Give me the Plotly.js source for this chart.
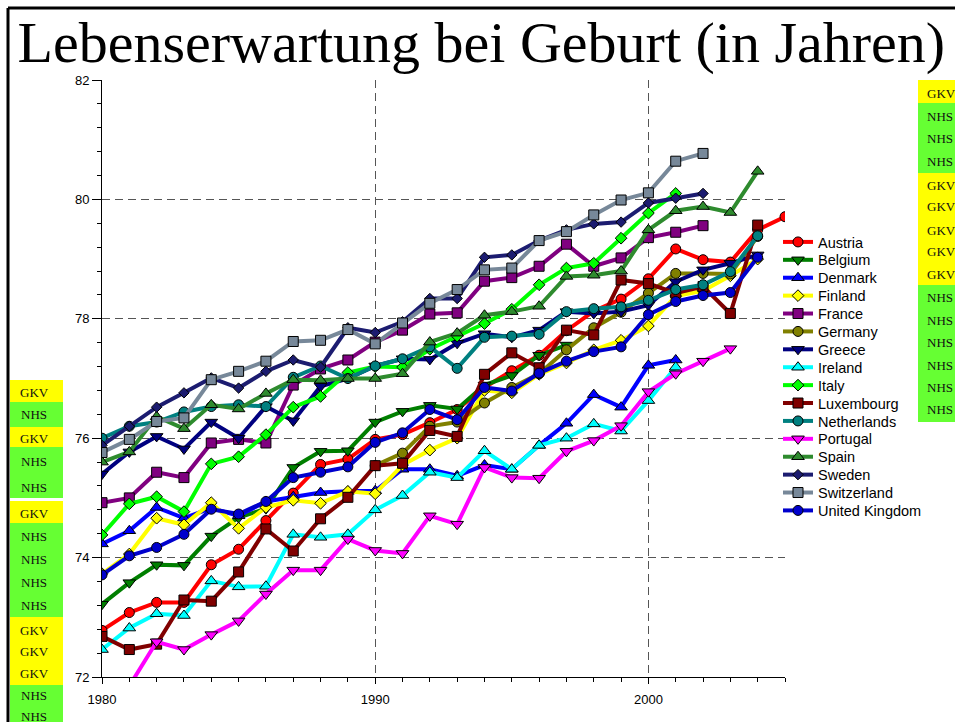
<!DOCTYPE html>
<html>
<head>
<meta charset="utf-8">
<script src="https://cdn.plot.ly/plotly-3.0.1.min.js"></script>
<style>html,body{margin:0;padding:0;background:#fff;}#chart{width:955px;height:722px;}</style>
</head>
<body>
<div id="chart"></div>
<script>
const years = [1980,1981,1982,1983,1984,1985,1986,1987,1988,1989,1990,1991,1992,1993,1994,1995,1996,1997,1998,1999,2000,2001,2002,2003,2004,2005];

const austria     = [72.78,73.08,73.25,73.25,73.88,74.14,74.62,75.08,75.56,75.65,75.98,76.06,76.26,76.48,76.85,77.13,77.39,77.80,78.13,78.33,78.67,79.17,78.99,78.95,79.49,79.71];
const belgium     = [73.22,73.58,73.88,73.87,74.36,74.67,74.82,75.51,75.78,75.79,76.27,76.45,76.55,76.49,76.89,77.05,77.39,77.56,null,null,null,null,null,null,null,null];
const denmark     = [74.23,74.45,74.84,74.66,74.83,74.70,74.94,75.02,75.09,75.11,75.12,75.48,75.48,75.37,75.55,75.48,75.88,76.25,76.73,76.52,77.22,77.31,null,null,null,null];
const finland     = [73.73,74.06,74.66,74.55,74.92,74.49,74.84,74.96,74.91,75.11,75.07,75.55,75.80,76.00,76.80,76.76,77.07,77.26,77.48,77.64,77.88,78.38,78.47,78.72,79.00,null];
const france      = [74.92,75.00,75.43,75.34,75.92,75.98,75.92,76.89,77.16,77.31,77.61,77.81,78.08,78.10,78.63,78.69,78.88,79.25,78.88,79.02,79.36,79.45,79.56,null,null,null];
const germany     = [null,null,null,null,null,null,null,null,null,null,75.54,75.75,76.20,76.27,76.59,76.85,77.08,77.48,77.85,78.11,78.43,78.76,78.76,78.75,79.38,null];
const greece      = [75.40,75.77,76.03,75.82,76.27,76.00,76.53,76.29,76.87,77.00,77.21,77.33,77.32,77.59,77.75,77.69,77.81,78.12,78.09,78.12,78.23,78.62,78.82,78.93,79.07,null];
const ireland     = [72.46,72.82,73.06,73.03,73.61,73.51,73.52,74.39,74.34,74.39,74.80,75.04,75.43,75.34,75.79,75.48,75.88,76.00,76.24,76.12,76.63,77.19,null,null,null,null];
const italy       = [74.38,74.90,75.02,74.77,75.57,75.69,76.06,76.52,76.70,77.10,77.20,77.19,77.49,77.71,77.92,78.16,78.57,78.85,78.93,79.35,79.77,80.10,null,null,null,null];
const luxembourg  = [72.68,72.46,72.55,73.29,73.27,73.76,74.48,74.11,74.65,75.01,75.54,75.58,76.13,76.03,77.07,77.43,77.18,77.81,77.73,78.65,78.59,78.43,78.54,78.09,79.57,null];
const netherlands = [76.00,76.20,76.27,76.44,76.53,76.56,76.53,77.02,77.21,77.00,77.21,77.33,77.53,77.17,77.69,77.71,77.74,78.12,78.17,78.20,78.31,78.49,78.57,78.79,79.39,null];
const portugal    = [71.30,71.85,72.59,72.46,72.71,72.94,73.39,73.79,73.79,74.31,74.12,74.07,74.70,74.56,75.51,75.34,75.33,75.78,75.96,76.21,76.78,77.08,77.29,77.50,null,null];
const spain       = [75.60,75.77,76.36,76.16,76.56,76.49,76.75,76.98,76.97,77.00,77.00,77.08,77.61,77.76,78.06,78.12,78.21,78.71,78.73,78.80,79.49,79.81,79.88,79.78,80.47,null];
const sweden      = [75.88,76.20,76.52,76.76,77.01,76.84,77.12,77.31,77.19,77.85,77.77,77.95,78.34,78.34,79.03,79.07,79.31,79.49,79.59,79.62,79.94,80.02,80.10,null,null,null];
const switzerland = [75.76,75.98,76.28,76.34,76.98,77.12,77.29,77.62,77.64,77.82,77.58,77.93,78.26,78.49,78.82,78.85,79.31,79.46,79.74,79.99,80.11,80.64,80.77,null,null,null];
const uk          = [73.71,74.03,74.17,74.39,74.81,74.73,74.94,75.34,75.43,75.52,75.93,76.09,76.48,76.31,76.85,76.79,77.09,77.29,77.45,77.53,78.07,78.29,78.39,78.44,79.03,null];

const countries = ['Austria','Belgium','Denmark','Finland','France','Germany','Greece','Ireland','Italy','Luxembourg','Netherlands','Portugal','Spain','Sweden','Switzerland','United Kingdom'];
const seriesData = [austria,belgium,denmark,finland,france,germany,greece,ireland,italy,luxembourg,netherlands,portugal,spain,sweden,switzerland,uk];
const colors = ['#FF0000','#007F00','#0000FF','#FFFF00','#800080','#808000','#000080','#00FFFF','#00FF00','#800000','#008080','#FF00FF','#2E8B2E','#1C1C70','#778899','#0000CD'];
const symbols = ['circle','triangle-down','triangle-up','diamond','square','circle','triangle-down','triangle-up','diamond','square','circle','triangle-down','triangle-up','diamond','square','circle'];
const msizes = [10,11,11,9,10,10,11,11,9,10,10,11,11,8,10,10];

// side labels (health system type)
const rightLabels = ['GKV','NHS','NHS','NHS','GKV','GKV','GKV','GKV','GKV','NHS','NHS','NHS','NHS','NHS','NHS'];
const leftLabels  = ['GKV','NHS','GKV','NHS','NHS','GKV','NHS','NHS','NHS','NHS','GKV','GKV','GKV','NHS','NHS'];

// geometry helpers (pixel -> paper)
const L = 102, R = 785, T = 80, B = 677;
const W = R - L, H = B - T;
const px = x => (x - L) / W;
const py = y => (B - y) / H;

const traces = countries.map((c, i) => ({
  type: 'scatter', mode: 'lines+markers', name: c,
  x: years, y: seriesData[i],
  line: {color: colors[i], width: 4},
  marker: {symbol: symbols[i], size: msizes[i], color: colors[i], line: {color: '#000', width: 1}},
  connectgaps: false
}));

const YEL = '#FFFF00', GRN = '#66FF33';
const shapes = [];
const annotations = [];

// right column blocks
const rightBlocks = [[80,103,YEL],[103,173,GRN],[173,285,YEL],[285,422,GRN]];
rightBlocks.forEach(b => shapes.push({type:'rect', xref:'paper', yref:'paper', x0:px(918), x1:px(960), y0:py(b[1]), y1:py(b[0]), fillcolor:b[2], line:{width:0}, layer:'below'}));
const rightY = [93,116,139,161,185,207,230,252,274,297,320,342,365,387,410];
rightLabels.forEach((t, i) => annotations.push({xref:'paper', yref:'paper', x:px(925), xanchor:'left', y:py(rightY[i]), yanchor:'middle', text:t, showarrow:false, font:{family:'Liberation Serif, Times New Roman, serif', size:13, color:'#111'}}));

// left column blocks
const leftBlocks = [[380,402,YEL],[402,427,GRN],[427,447,YEL],[447,498,GRN],[501,523,YEL],[523,617,GRN],[617,685,YEL],[685,730,GRN]];
leftBlocks.forEach(b => shapes.push({type:'rect', xref:'paper', yref:'paper', x0:px(10), x1:px(63), y0:py(b[1]), y1:py(b[0]), fillcolor:b[2], line:{width:0}, layer:'below'}));
const leftY = [392,415,438,461,487,513,536,559,582,605,630,651,673,695,716];
leftLabels.forEach((t, i) => annotations.push({xref:'paper', yref:'paper', x:px(34), xanchor:'center', y:py(leftY[i]), yanchor:'middle', text:t, showarrow:false, font:{family:'Liberation Serif, Times New Roman, serif', size:13, color:'#111'}}));

// frame lines
shapes.push({type:'line', xref:'paper', yref:'paper', x0:px(8), x1:px(960), y0:py(8), y1:py(8), line:{color:'#000', width:3}});
shapes.push({type:'line', xref:'paper', yref:'paper', x0:px(8), x1:px(8), y0:py(8), y1:py(730), line:{color:'#000', width:3}});

const axisFont = {family:'Liberation Sans, Arial, sans-serif', size:13, color:'#000'};
const layout = {
  width: 955, height: 722,
  margin: {l: L, r: 955 - R, t: T, b: 722 - B, pad: 0},
  paper_bgcolor: '#fff', plot_bgcolor: '#fff',
  title: {text: 'Lebenserwartung bei Geburt (in Jahren)', font: {family: 'Liberation Serif, Times New Roman, serif', size: 58, color: '#000'}, x: 0.504, xanchor: 'center', xref: 'container', y: 1 - 42/722, yanchor: 'middle', yref: 'container'},
  showlegend: true,
  legend: {x: px(778), xanchor: 'left', y: py(226), yanchor: 'top', font: {family: 'Liberation Sans, Arial, sans-serif', size: 14.5, color: '#000'}, bgcolor: 'rgba(0,0,0,0)', borderwidth: 0, tracegroupgap: 0, itemwidth: 30},
  xaxis: {range: [1980, 2005], tickmode: 'array', tickvals: [1980, 1990, 2000], ticktext: ['1980','1990','2000'], showgrid: true, gridcolor: '#555', gridwidth: 1.2, griddash: '8px,5px', showline: true, linecolor: '#000', linewidth: 1, ticks: 'outside', ticklen: 6, tickcolor: '#000', tickfont: axisFont, ticklabelstandoff: 4, zeroline: false, fixedrange: true,
    minor: {tickmode: 'linear', tick0: 1980, dtick: 1, ticks: 'outside', ticklen: 4, tickcolor: '#000', showgrid: false}},
  yaxis: {range: [72, 82], tick0: 72, dtick: 2, showgrid: true, gridcolor: '#555', gridwidth: 1.2, griddash: '8px,5px', showline: true, linecolor: '#000', linewidth: 1, ticks: 'outside', ticklen: 9, tickcolor: '#000', tickfont: axisFont, zeroline: false, fixedrange: true,
    minor: {tick0: 72, dtick: 0.4, ticks: 'outside', ticklen: 4, tickcolor: '#000', showgrid: false}},
  shapes: shapes,
  annotations: annotations
};

Plotly.newPlot('chart', traces, layout, {displayModeBar: false, staticPlot: true}).then(gd => {
  // tighten legend row spacing to match the reference (~17.9 px per entry)
  const items = gd.querySelectorAll('.legend .traces');
  if (!items.length) return;
  const m = /translate\(\s*([-\d.]+)[ ,]+([-\d.]+)\s*\)/.exec(items[0].getAttribute('transform') || '');
  if (!m) return;
  const x0 = parseFloat(m[1]), y0 = parseFloat(m[2]);
  items.forEach((el, i) => el.setAttribute('transform', 'translate(' + x0 + ',' + (y0 + i * 17.9) + ')'));
});
</script>
</body>
</html>
